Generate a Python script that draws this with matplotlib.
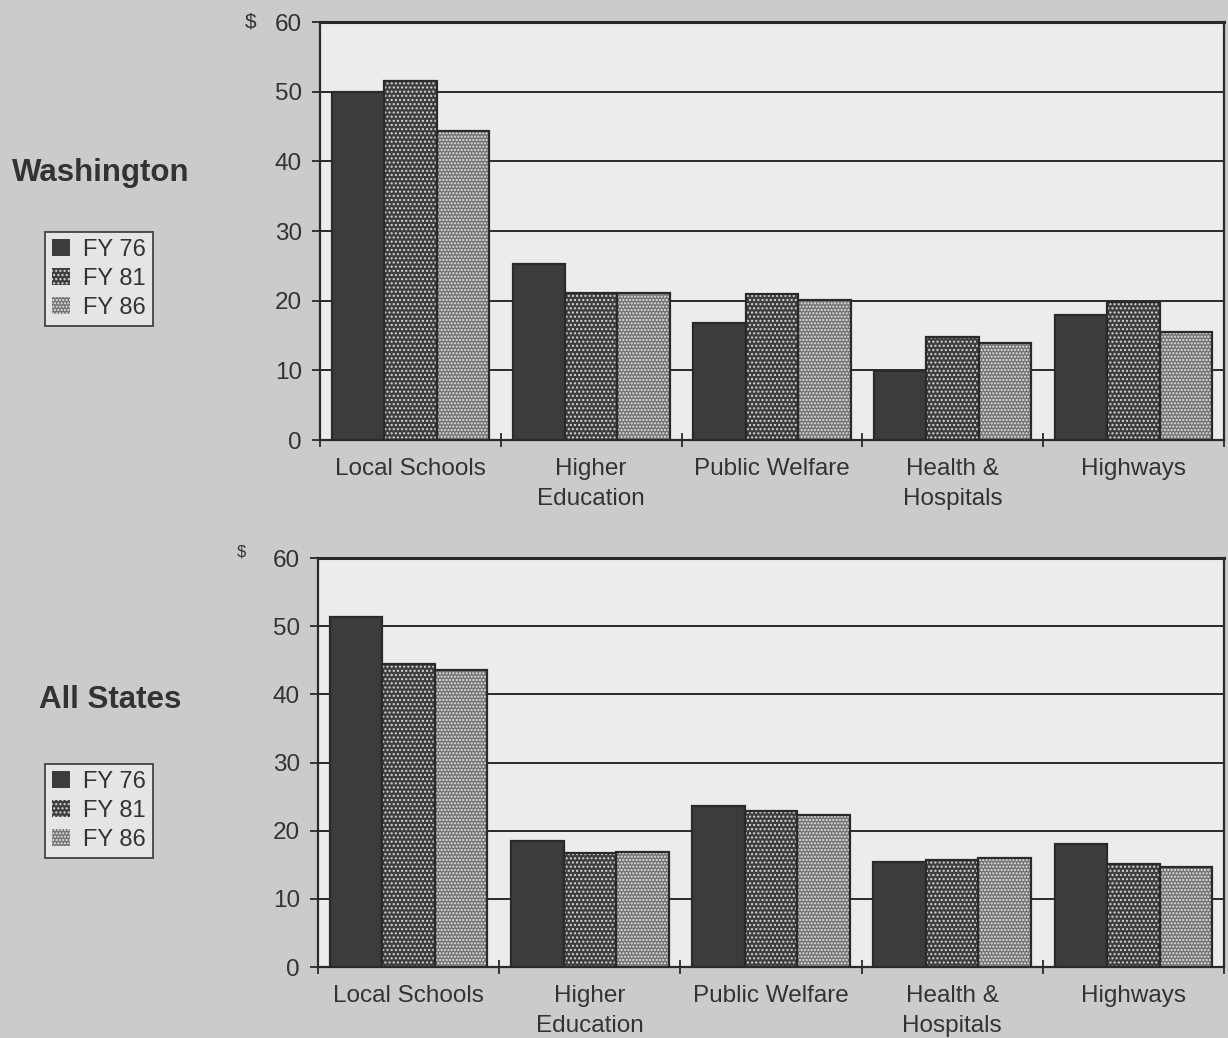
import numpy as np
import matplotlib
matplotlib.use('Agg')
import matplotlib.pyplot as plt
from matplotlib.patches import Patch

plt.rcParams['font.family'] = ['Liberation Sans', 'DejaVu Sans']

categories = ['Local Schools', 'Higher\nEducation', 'Public Welfare', 'Health &\nHospitals', 'Highways']
years = ['FY 76', 'FY 81', 'FY 86']

washington_fy76 = [50.0, 25.3, 16.8, 9.9, 17.9]
washington_fy81 = [51.5, 21.1, 20.9, 14.8, 19.8]
washington_fy86 = [44.3, 21.1, 20.1, 13.9, 15.5]

all_states_fy76 = [51.3, 18.5, 23.6, 15.4, 18.0]
all_states_fy81 = [44.4, 16.7, 22.9, 15.7, 15.1]
all_states_fy86 = [43.5, 16.9, 22.3, 16.0, 14.7]

yticks = [0, 10, 20, 30, 40, 50, 60]

fig_bg = '#cbcbcb'
panel_bg = '#ececec'
ink = '#2a2a2a'
text_c = '#333333'
# fill colour, dot colour, hatch for each fiscal year
styles = [('#3c3c3c', None, None),
          ('#3e3e3e', '#d8d8d8', '....'),
          ('#757575', '#e6e6e6', '.....')]

fig = plt.figure(figsize=(12.28, 10.38), dpi=100, facecolor=fig_bg)


def draw_panel(ax, series):
    x = np.arange(len(categories))
    w = 0.29
    ax.set_facecolor(panel_bg)
    for i, vals in enumerate(series):
        fc, dot, hatch = styles[i]
        pos = x + (i - 1) * w
        if hatch:
            ax.bar(pos, vals, w, color=fc, edgecolor=dot, hatch=hatch, linewidth=0, zorder=3)
            ax.bar(pos, vals, w, fill=False, edgecolor=ink, linewidth=1.6, zorder=4)
        else:
            ax.bar(pos, vals, w, color=fc, edgecolor=ink, linewidth=1.6, zorder=3)
    ax.set_xlim(-0.5, len(categories) - 0.5)
    ax.set_ylim(0, 60)
    ax.set_yticks(yticks)
    ax.yaxis.grid(True, color=ink, linewidth=1.4, zorder=1)
    ax.set_axisbelow(True)
    ax.set_xticks(x)
    ax.set_xticklabels(categories, fontsize=17.5, color=text_c, linespacing=1.45)
    ax.set_xticks(np.arange(-0.5, len(categories)), minor=True)
    ax.tick_params(axis='x', which='major', length=0, pad=13)
    ax.tick_params(axis='x', which='minor', direction='inout', length=10, width=1.3, color=ink)
    ax.tick_params(axis='y', direction='inout', length=12, width=1.3, color=ink,
                   labelsize=17.5, labelcolor=text_c, pad=7)
    for s in ax.spines.values():
        s.set_color(ink)
        s.set_linewidth(1.6)
    ax.spines['top'].set_linewidth(2.2)


ax_top = fig.add_axes([0.2606, 0.5761, 0.736, 0.4027])
draw_panel(ax_top, [washington_fy76, washington_fy81, washington_fy86])
ax_bot = fig.add_axes([0.2590, 0.0684, 0.7377, 0.3940])
draw_panel(ax_bot, [all_states_fy76, all_states_fy81, all_states_fy86])

fig.text(0.199, 0.9788, '$', fontsize=15, color=text_c, ha='left', va='center')
fig.text(0.193, 0.4680, '$', fontsize=12, color=text_c, ha='left', va='center')

fig.text(0.082, 1 - 173 / 1038, 'Washington', fontsize=22.5, fontweight='bold',
         color=text_c, ha='center', va='center')
fig.text(0.090, 1 - 700 / 1038, 'All States', fontsize=22.5, fontweight='bold',
         color=text_c, ha='center', va='center')

handles = []
for i, yr in enumerate(years):
    fc, dot, hatch = styles[i]
    if hatch:
        handles.append(Patch(facecolor=fc, edgecolor=dot, hatch=hatch, linewidth=0, label=yr))
    else:
        handles.append(Patch(facecolor=fc, edgecolor=ink, linewidth=0, label=yr))

for cy in (1 - 279 / 1038, 1 - 811 / 1038):
    leg = fig.legend(handles=handles, loc='center', bbox_to_anchor=(0.0806, cy),
                     frameon=True, fancybox=False, fontsize=17, handlelength=0.8,
                     handleheight=0.75, handletextpad=0.55, labelspacing=0.3,
                     borderpad=0.3, borderaxespad=0)
    leg.get_frame().set_edgecolor(ink)
    leg.get_frame().set_linewidth(1.4)
    leg.get_frame().set_facecolor(panel_bg)
    for t in leg.get_texts():
        t.set_color(text_c)

fig.savefig('out.png', dpi=100, facecolor=fig_bg)
